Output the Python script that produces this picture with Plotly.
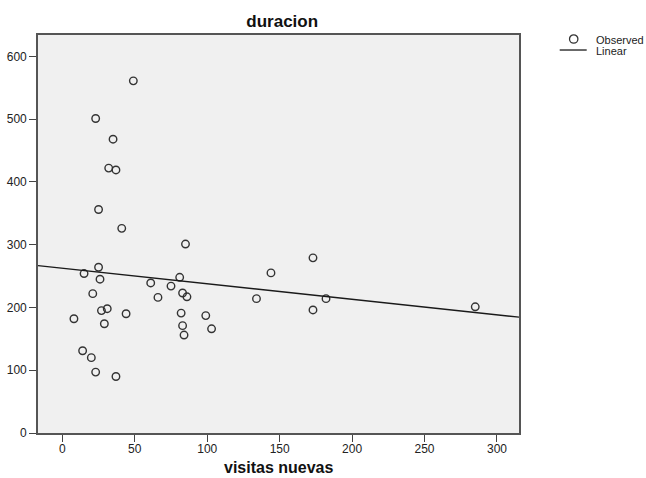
import numpy as np
import plotly.graph_objects as go

visitas_nuevas = [49, 23, 35, 32, 37, 25, 41,
                  85, 25, 15, 26, 21, 61, 75, 81, 83, 86, 66, 27, 31, 8, 29, 44,
                  82, 83, 84, 99, 103, 14, 20, 23, 37, 134,
                  144, 173, 182, 173, 285]
duracion = [561, 501, 468, 422, 419, 356, 326,
            301, 264, 254, 245, 222, 239, 234, 248, 223, 217, 216, 195, 198, 182, 174, 190,
            191, 171, 156, 187, 166, 131, 120, 97, 90, 214,
            255, 279, 214, 196, 201]

x_range = [-16.8, 315.2]
y_range = [0, 634]
x_ticks = [0, 50, 100, 150, 200, 250, 300]
y_ticks = [0, 100, 200, 300, 400, 500, 600]
legend_labels = ["Observed", "Linear"]

# Linear fit from the observed data
slope, intercept = np.polyfit(visitas_nuevas, duracion, 1)
line_x = np.array(x_range)
line_y = intercept + slope * line_x

W, H = 646, 478
ml, mr, mt, mb = 38.3, 126.7, 35, 45.3
PW, PH = W - ml - mr, H - mt - mb


def px(xpix):
    return (xpix - ml) / PW


def py(ypix):
    return (H - mb - ypix) / PH


FONT = "Liberation Sans, Arial, sans-serif"

fig = go.Figure()
fig.add_trace(go.Scatter(
    x=visitas_nuevas, y=duracion, mode="markers", name=legend_labels[0],
    marker=dict(symbol="circle-open", size=7.5, color="#333333", line=dict(width=1.4, color="#333333")),
))
fig.add_trace(go.Scatter(
    x=line_x, y=line_y, mode="lines", name=legend_labels[1],
    line=dict(color="#1a1a1a", width=1.4),
))

axis_common = dict(
    showgrid=False, zeroline=False, showline=True, linecolor="#555555", linewidth=1.6,
    mirror=True, ticks="outside", ticklen=7, tickwidth=1.4, tickcolor="#444444",
    tickfont=dict(family=FONT, size=12, color="#222222"),
)

# legend drawn as decoration (SPSS-style compact legend)
r = 4.2
shapes = [
    dict(type="circle", xref="paper", yref="paper",
         x0=px(574 - r), x1=px(574 + r), y0=py(39 + r), y1=py(39 - r),
         line=dict(color="#333333", width=1.3)),
    dict(type="line", xref="paper", yref="paper",
         x0=px(560), x1=px(587), y0=py(50), y1=py(50),
         line=dict(color="#1a1a1a", width=1.3)),
]
annotations = [
    dict(text="<b>visitas nuevas</b>", xref="paper", yref="paper", x=0.5,
         y=py(467.5), xanchor="center", yanchor="middle", showarrow=False,
         font=dict(family=FONT, size=16, color="#111111")),
    dict(text=legend_labels[0], xref="paper", yref="paper", x=px(594), y=py(40),
         xanchor="left", yanchor="middle", showarrow=False,
         font=dict(family=FONT, size=11, color="#222222")),
    dict(text=legend_labels[1], xref="paper", yref="paper", x=px(594), y=py(51),
         xanchor="left", yanchor="middle", showarrow=False,
         font=dict(family=FONT, size=11, color="#222222")),
]

fig.update_layout(
    width=W, height=H,
    margin=dict(l=ml, r=mr, t=mt, b=mb, autoexpand=False),
    paper_bgcolor="white", plot_bgcolor="#f0f0f0",
    title=dict(text="<b>duracion</b>", x=(282.5 - ml) / PW, xref="paper", xanchor="center",
               y=1 - 20.7 / H, yref="container", yanchor="middle",
               font=dict(family=FONT, size=17, color="#111111")),
    xaxis=dict(range=x_range, tickvals=x_ticks, ticklabelstandoff=-3, **axis_common),
    yaxis=dict(range=y_range, tickvals=y_ticks, **axis_common),
    showlegend=False,
    shapes=shapes,
    annotations=annotations,
)

fig.write_html("out.html")
